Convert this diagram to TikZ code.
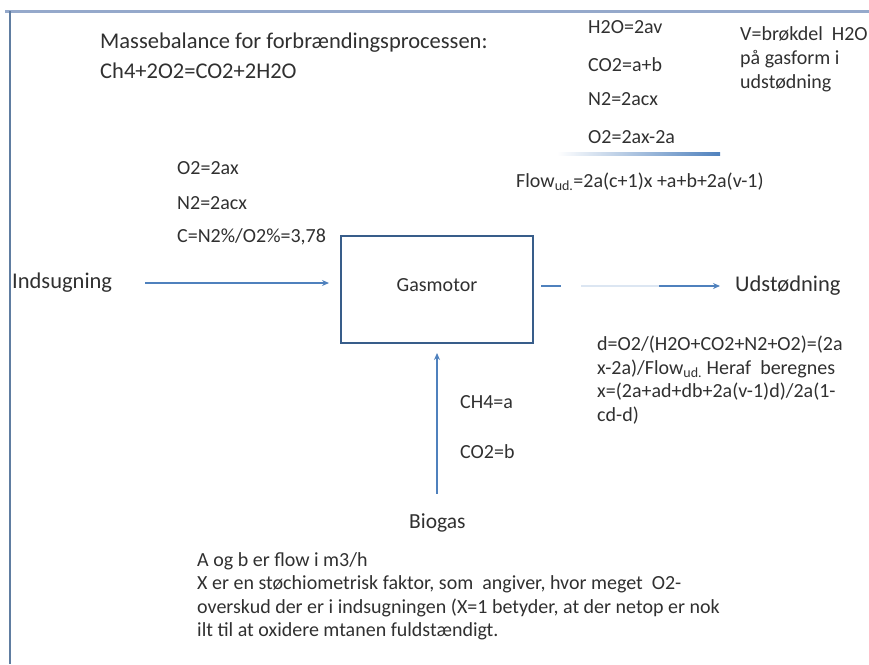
\documentclass[tikz,border=0pt]{standalone}
\usepackage{fontspec}
\setmainfont{Carlito}
\usetikzlibrary{arrows.meta, positioning}
\definecolor{flowblue}{HTML}{4F81BD}
\definecolor{boxblue}{HTML}{385D8A}
\definecolor{framegray}{HTML}{95A9CB}
\definecolor{inktext}{HTML}{303030}

\begin{document}
\begin{tikzpicture}[x=1pt, y=-1pt,
    txt/.style={anchor=west, inner sep=0pt, text=inktext, font=\fontsize{20}{24}\selectfont},
    big/.style={txt, font=\fontsize{22.5}{27}\selectfont},
    small/.style={txt, font=\fontsize{20}{23.5}\selectfont},
    engine/.style={rectangle, draw=boxblue, line width=2pt, minimum width=192pt,
                   minimum height=107pt, text=inktext, font=\fontsize{20}{24}\selectfont},
    arr/.style={-{Stealth[length=7pt, width=6pt]}, line width=1.2pt, color=flowblue}
  ]
    \useasboundingbox (0,0) rectangle (869,664);
    % slide frame
    \draw[framegray, line width=3pt] (5,11) -- (869,11);
    \draw[boxblue!80, line width=2pt] (10,11) -- (10,664);

    % reaction
    \node[big] (title) at (100,43) {Massebalance for forbrændingsprocessen:};
    \node[big] (react) at (100,71) {Ch4+2O2=CO2+2H2O};

    % exhaust composition
    \node[txt] (h2o) at (588,27) {H2O=2av};
    \node[txt] (co2u) at (588,65) {CO2=a+b};
    \node[txt] (n2u) at (588,99) {N2=2acx};
    \node[txt] (o2u) at (588,137) {O2=2ax-2a};
    \shade[left color=white, right color=flowblue] (557,152.5) rectangle (720,155.5);
    \node[txt] (flowud) at (516,182) {Flow\textsubscript{ud.}=2a(c+1)x +a+b+2a(v-1)};
    \node[txt, anchor=north west, align=left] (vnote) at (740,26)
      {V=brøkdel\ \ H2O\\på gasform i\\udstødning};

    % intake composition
    \node[txt] (o2i) at (177,168) {O2=2ax};
    \node[txt] (n2i) at (177,203) {N2=2acx};
    \node[txt] (cratio) at (177,237) {C=N2\%/O2\%=3,78};

    % engine and flows
    \node[engine] (motor) at (437,289.5) {\raisebox{9pt}{Gasmotor}};
    \node[big] (indsug) at (12,283) {Indsugning};
    \node[big] (udst) at (735,286) {Udstødning};
    \node[big, font=\fontsize{21.5}{26}\selectfont] (biogas) at (409,523) {Biogas};

    \draw[arr, shorten <=33pt, shorten >=11pt] (indsug.east) -- (indsug.east -| motor.west);
    \coordinate (gap) at ([xshift=47pt]motor.east |- udst.west);
    \coordinate (fade) at ([xshift=125pt]motor.east |- udst.west);
    \draw[flowblue, line width=1.2pt, shorten <=7pt] (motor.east |- udst.west) -- ([xshift=27pt]motor.east |- udst.west);
    \draw[flowblue!20, line width=1.2pt] (gap) -- (fade);
    \draw[arr, shorten >=15pt] (fade) -- (udst.west);
    \draw[arr, shorten <=20pt, shorten >=9pt] (biogas.north -| motor.south) -- (motor.south);

    \node[txt] (ch4) at (460,402) {CH4=a};
    \node[txt] (co2b) at (460,452) {CO2=b};

    % oxygen fraction
    \node[small, anchor=north west, align=left] (dnote) at (597,336)
      {d=O2/(H2O+CO2+N2+O2)=(2a\\x-2a)/Flow\textsubscript{ud.} Heraf\ \ beregnes\\x=(2a+ad+db+2a(v-1)d)/2a(1-\\cd-d)};

    % notes
    \node[small, anchor=north west, align=left] (notes) at (197,552)
      {A og b er flow i m3/h\\X er en støchiometrisk faktor, som\ \ angiver, hvor meget\ \ O2-\\overskud der er i indsugningen (X=1 betyder, at der netop er nok\\ilt til at oxidere mtanen fuldstændigt.};
\end{tikzpicture}
\end{document}
